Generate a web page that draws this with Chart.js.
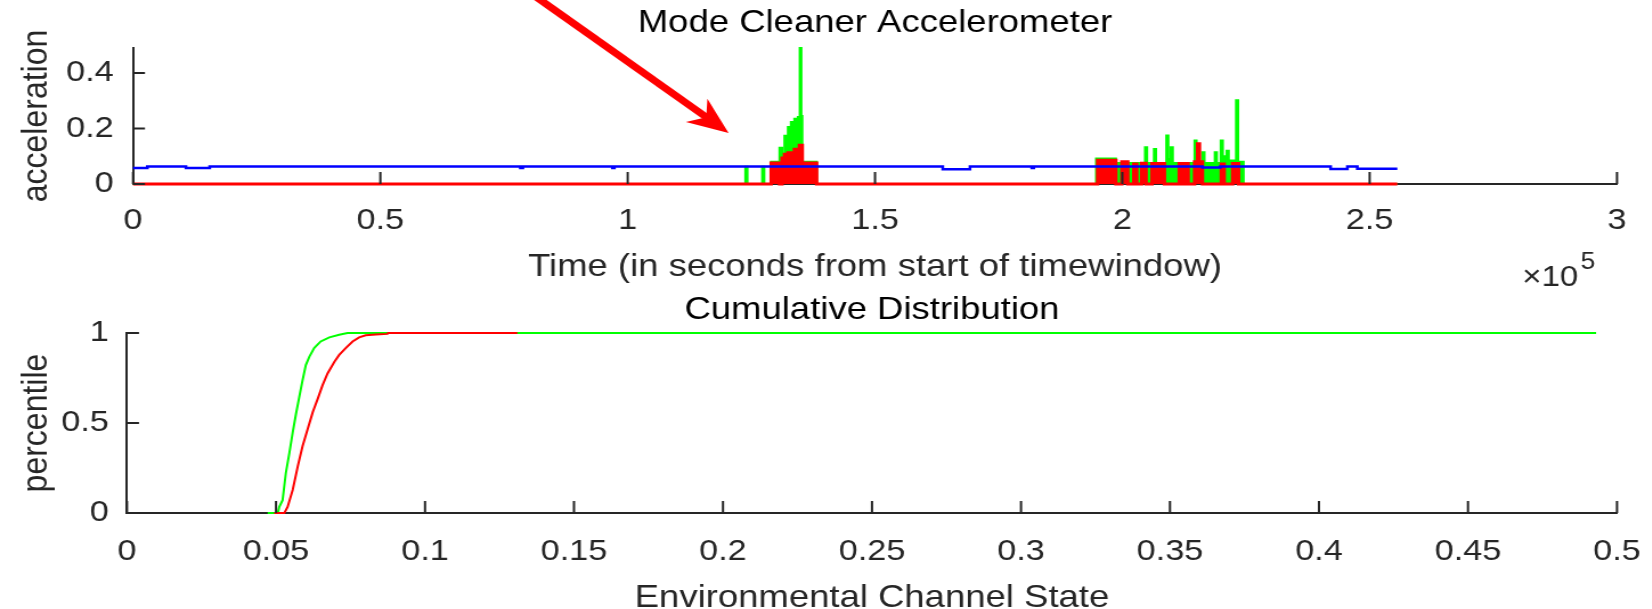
<!DOCTYPE html>
<html>
<head>
<meta charset="utf-8">
<script src="https://cdn.jsdelivr.net/npm/chart.js@4.4.0/dist/chart.umd.min.js"></script>
<style>
  html, body { margin: 0; padding: 0; background: #fff; overflow: hidden; }
  #figure { position: relative; width: 1652px; height: 609px; overflow: hidden; }
  /* the figure is drawn narrow and stretched sideways, like the exported plot */
  .panel { position: absolute; left: 0; transform-origin: 0 0; transform: scaleX(1.14); }
  #accel-chart { top: 0; }
  #cdf-chart { top: 290px; }
</style>
</head>
<body>
<div id="figure">
  <canvas id="accel-chart" class="panel" width="1449" height="300"></canvas>
  <canvas id="cdf-chart" class="panel" width="1449" height="340"></canvas>
</div>
<script>
// accelerometer levels, each value holds from its time until the next one (seconds)
const blueTime  = [0, 2900, 10700, 15500, 78300, 78800, 96900, 97300, 163700, 169200, 181700, 182100, 216200, 219800, 242100, 245500, 247500, 255600];
const blueLevel = [0.058, 0.063, 0.058, 0.063, 0.058, 0.063, 0.058, 0.063, 0.053, 0.063, 0.058, 0.063, 0.059, 0.063, 0.054, 0.063, 0.055, 0.055];

const redTime  = [0, 129000, 130700, 131200, 131700, 132400, 133700, 134700, 135300, 138200, 195000, 198700, 199900, 201100, 202300, 202900, 203900, 204800, 206000, 208500, 211500, 212100, 212700, 213300, 214600, 215200, 215600, 216200, 220000, 220600, 222300, 223500, 255600];
const redLevel = [0, 0.076, 0, 0.094, 0.107, 0.113, 0.125, 0.140, 0.076, 0, 0.086, 0, 0.080, 0, 0.072, 0, 0.075, 0, 0.074, 0, 0.074, 0, 0.074, 0, 0.080, 0.145, 0.080, 0, 0.072, 0, 0.074, 0, 0];

const greenTime  = [0, 123800, 124200, 127200, 127600, 129000, 130700, 131200, 131700, 132400, 133000, 133700, 134400, 134800, 135100, 135300, 138200, 194700, 198700, 204600, 205000, 206400, 206800, 208900, 209300, 209800, 210200, 214600, 215000, 216200, 216600, 218700, 219100, 219900, 220300, 221100, 221500, 223000, 223400, 224500, 255600];
const greenLevel = [0, 0.062, 0, 0.062, 0, 0.080, 0.131, 0.095, 0.174, 0.205, 0.223, 0.235, 0.241, 0.490, 0.245, 0.080, 0, 0.092, 0.076, 0.132, 0.076, 0.126, 0.076, 0.175, 0.090, 0.132, 0.076, 0.157, 0.080, 0.114, 0.076, 0.114, 0.076, 0.157, 0.100, 0.120, 0.085, 0.302, 0.080, 0, 0];

// cumulative distributions of the channel state
const cdfGreenX = [0.0472, 0.0506, 0.0511, 0.0522, 0.0533, 0.0545, 0.0556, 0.0567, 0.0578, 0.0589, 0.0600, 0.0612, 0.0628, 0.0650, 0.0679, 0.0712, 0.0740, 0.4930];
const cdfGreenY = [0, 0, 0.034, 0.071, 0.221, 0.334, 0.447, 0.550, 0.644, 0.737, 0.822, 0.869, 0.916, 0.953, 0.976, 0.990, 1, 1];
const cdfRedX = [0.0494, 0.0528, 0.0539, 0.0556, 0.0573, 0.0589, 0.0606, 0.0623, 0.0640, 0.0656, 0.0673, 0.0696, 0.0712, 0.0734, 0.0757, 0.0779, 0.0801, 0.0835, 0.0874, 0.0876, 0.1310];
const cdfRedY = [0, 0, 0.034, 0.128, 0.259, 0.371, 0.465, 0.559, 0.634, 0.709, 0.775, 0.840, 0.878, 0.916, 0.953, 0.976, 0.987, 0.992, 0.995, 1, 1];

// tick values
const timeTicks = [0, 50000, 100000, 150000, 200000, 250000, 300000];
const accelTicks = [0, 0.2, 0.4];
const stateTicks = [0, 0.05, 0.1, 0.15, 0.2, 0.25, 0.3, 0.35, 0.4, 0.45, 0.5];
const percentileTicks = [0, 0.5, 1];

const axisColor = '#262626';
const fontFamily = 'Liberation Sans';
const tickFont = { family: fontFamily, size: 30 };
const labelFont = { family: fontFamily, size: 32 };

Chart.defaults.font.family = fontFamily;

function toPoints(xs, ys) {
  return xs.map((x, i) => ({ x: x, y: ys[i] }));
}

function fixedTicks(values) {
  return scale => { scale.ticks = values.map(value => ({ value })); };
}

// matlab style ticks pointing into the plot
const innerTicks = {
  id: 'innerTicks',
  afterDatasetsDraw(chart) {
    const { ctx, chartArea, scales: { x, y } } = chart;
    ctx.save();
    ctx.strokeStyle = axisColor;
    ctx.lineWidth = 2;
    ctx.beginPath();
    x.ticks.forEach(t => {
      const px = x.getPixelForValue(t.value);
      ctx.moveTo(px, chartArea.bottom);
      ctx.lineTo(px, chartArea.bottom - 12);
    });
    y.ticks.forEach(t => {
      const py = y.getPixelForValue(t.value);
      ctx.moveTo(chartArea.left, py);
      ctx.lineTo(chartArea.left + 10.5, py);
    });
    ctx.stroke();
    ctx.restore();
  }
};

// title centred over the plot area
const panelTitle = {
  id: 'panelTitle',
  afterDraw(chart, args, opts) {
    const { ctx, chartArea } = chart;
    ctx.save();
    ctx.font = `32px "${fontFamily}"`;
    ctx.fillStyle = '#000';
    ctx.textAlign = 'center';
    ctx.textBaseline = 'middle';
    ctx.fillText(opts.text, (chartArea.left + chartArea.right) / 2, opts.y);
    ctx.restore();
  }
};

// x10^5 multiplier under the right end of the time axis
const timeExponent = {
  id: 'timeExponent',
  afterDraw(chart) {
    const { ctx, chartArea } = chart;
    ctx.save();
    ctx.fillStyle = axisColor;
    ctx.textBaseline = 'middle';
    ctx.textAlign = 'right';
    ctx.font = `29px "${fontFamily}"`;
    ctx.fillText('\u00d710', chartArea.right - 34, 278);
    ctx.textAlign = 'left';
    ctx.font = `23px "${fontFamily}"`;
    ctx.fillText('5', chartArea.right - 32, 263);
    ctx.restore();
  }
};

// red arrow pointing at the first burst
const burstArrow = {
  id: 'burstArrow',
  afterDraw(chart, args, opts) {
    const { ctx, scales: { x, y } } = chart;
    const x0 = x.getPixelForValue(opts.from[0]), y0 = y.getPixelForValue(opts.from[1]);
    const x1 = x.getPixelForValue(opts.to[0]), y1 = y.getPixelForValue(opts.to[1]);
    const len = Math.hypot(x1 - x0, y1 - y0);
    const ux = (x1 - x0) / len, uy = (y1 - y0) / len;
    const nx = -uy, ny = ux;
    const head = 36, half = 15;
    ctx.save();
    ctx.strokeStyle = opts.color;
    ctx.fillStyle = opts.color;
    ctx.lineWidth = 7;
    ctx.beginPath();
    ctx.moveTo(x0, y0);
    ctx.lineTo(x1 - ux * head * 0.6, y1 - uy * head * 0.6);
    ctx.stroke();
    ctx.beginPath();
    ctx.moveTo(x1, y1);
    ctx.lineTo(x1 - ux * head + nx * half, y1 - uy * head + ny * half);
    ctx.lineTo(x1 - ux * head * 0.7, y1 - uy * head * 0.7);
    ctx.lineTo(x1 - ux * head - nx * half, y1 - uy * head - ny * half);
    ctx.closePath();
    ctx.fill();
    ctx.restore();
  }
};

function baseOptions(cfg) {
  return {
    responsive: false,
    animation: false,
    events: [],
    layout: { padding: { top: cfg.top, right: 30.6, left: 0, bottom: 0 } },
    elements: { point: { radius: 0 }, line: { tension: 0 } },
    plugins: {
      legend: { display: false },
      tooltip: { enabled: false },
      panelTitle: { text: cfg.title, y: cfg.titleY }
    },
    scales: {
      x: {
        type: 'linear',
        min: cfg.xMin, max: cfg.xMax,
        afterBuildTicks: fixedTicks(cfg.xTicks),
        afterFit: s => { s.height = cfg.xHeight; },
        // the invisible tick length spaces the labels down without widening the side padding
        grid: { display: false, drawTicks: true, tickLength: cfg.xTickPad, tickColor: 'rgba(0,0,0,0)' },
        border: { display: true, color: axisColor, width: 2 },
        ticks: { color: axisColor, font: tickFont, padding: 0, maxRotation: 0, autoSkip: false, callback: cfg.xFormat },
        title: { display: true, text: cfg.xTitle, color: axisColor, font: labelFont, padding: { top: 0, bottom: cfg.xTitlePad } }
      },
      y: {
        type: 'linear',
        min: cfg.yMin, max: cfg.yMax,
        afterBuildTicks: fixedTicks(cfg.yTicks),
        afterFit: s => { s.width = cfg.yWidth; },
        grid: { display: false, drawTicks: false },
        border: { display: true, color: axisColor, width: 2 },
        ticks: { color: axisColor, font: tickFont, padding: cfg.yTickPad, callback: v => String(v) },
        title: { display: true, text: cfg.yTitle, color: axisColor, font: labelFont, padding: { top: 13.3, bottom: 0 } }
      }
    }
  };
}

const accelOptions = baseOptions({
  top: 48, title: 'Mode Cleaner Accelerometer', titleY: 23,
  xMin: 0, xMax: 300000, xTicks: timeTicks, xHeight: 116, xTickPad: 19, xTitlePad: 13.8,
  xTitle: 'Time (in seconds from start of timewindow)', xFormat: v => String(v / 1e5),
  yMin: 0, yMax: 0.49, yTicks: accelTicks, yWidth: 116.7, yTickPad: 17, yTitle: 'acceleration'
});
accelOptions.plugins.burstArrow = { from: [81000, 0.68], to: [120400, 0.184], color: '#ff0000' };

new Chart(document.getElementById('accel-chart'), {
  type: 'line',
  data: {
    datasets: [
      { label: 'blue', data: toPoints(blueTime, blueLevel), borderColor: '#0000ff', borderWidth: 2.5, stepped: true, fill: false, clip: false, order: 0 },
      { label: 'red', data: toPoints(redTime, redLevel), borderColor: '#ff0000', backgroundColor: '#ff0000', borderWidth: 3, stepped: true, fill: 'origin', clip: false, order: 1 },
      { label: 'green', data: toPoints(greenTime, greenLevel), borderColor: '#00ff00', backgroundColor: '#00ff00', borderWidth: 2, stepped: true, fill: 'origin', clip: false, order: 2 }
    ]
  },
  options: accelOptions,
  plugins: [innerTicks, panelTitle, timeExponent, burstArrow]
});

new Chart(document.getElementById('cdf-chart'), {
  type: 'line',
  data: {
    datasets: [
      { label: 'red', data: toPoints(cdfRedX, cdfRedY), borderColor: '#ff0000', borderWidth: 2, fill: false, clip: false, order: 0 },
      { label: 'green', data: toPoints(cdfGreenX, cdfGreenY), borderColor: '#00ff00', borderWidth: 2, fill: false, clip: false, order: 1 }
    ]
  },
  options: baseOptions({
    top: 43, title: 'Cumulative Distribution', titleY: 20,
    xMin: 0, xMax: 0.5, xTicks: stateTicks, xHeight: 117, xTickPad: 21, xTitlePad: 13,
    xTitle: 'Environmental Channel State', xFormat: v => String(v),
    yMin: 0, yMax: 1, yTicks: percentileTicks, yWidth: 111.4, yTickPad: 16, yTitle: 'percentile'
  }),
  plugins: [innerTicks, panelTitle]
});
</script>
</body>
</html>
